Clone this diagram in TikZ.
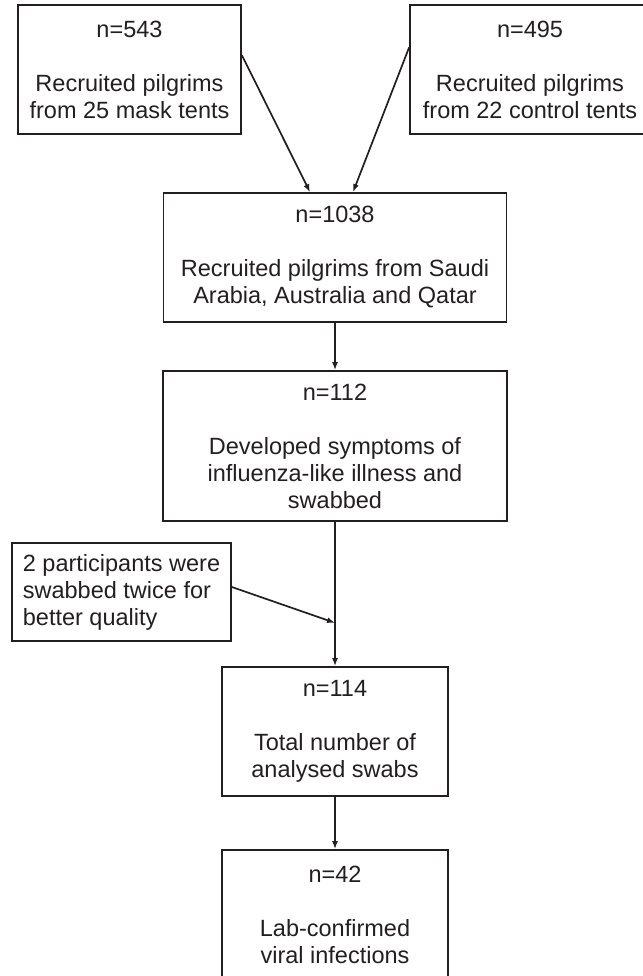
\documentclass[tikz,border=0pt]{standalone}
\usepackage{fontspec}
\setmainfont{Liberation Sans}
\usetikzlibrary{arrows.meta,calc}
\definecolor{ink}{HTML}{231F20}

\begin{document}
\begin{tikzpicture}[x=1pt, y=-1pt,
  box/.style={rectangle, draw=ink, line width=1.7pt, align=center, text=ink, inner sep=0pt, font=\fontsize{23.5}{27}\selectfont},
  flow/.style={draw=ink, line width=1.7pt, -{Latex[length=8pt, width=6pt]}}
]
  \useasboundingbox (0,0) rectangle (642,976);
  % recruitment
  \node[box, minimum width=223pt, minimum height=129pt] (mask) at (129.5,69.5) {n=543\\[27pt]Recruited pilgrims\\from 25 mask tents};
  \node[box, minimum width=240pt, minimum height=129pt] (ctrl) at (530,69.5) {n=495\\[27pt]Recruited pilgrims\\from 22 control tents};
  \node[box, minimum width=343pt, minimum height=129pt] (all) at (335,257.5) {n=1038\\[27pt]Recruited pilgrims from Saudi\\Arabia, Australia and Qatar};
  % illness and swabs
  \node[box, minimum width=344pt, minimum height=150pt] (ili) at (335,446) {n=112\\[27pt]Developed symptoms of\\influenza-like illness and\\swabbed};
  \node[box, align=left, minimum width=219pt, minimum height=98pt] (twice) at (121.5,592) {2 participants were\\swabbed twice for\\better quality};
  \node[box, minimum width=226pt, minimum height=129pt] (swabs) at (335,731.5) {n=114\\[27pt]Total number of\\analysed swabs};
  \node[box, minimum width=226pt, minimum height=130pt] (lab) at (335,915) {n=42\\[27pt]Lab-confirmed\\viral infections};
  \coordinate (join) at ($(ili.south)!0.7!(swabs.north)$);
  % arrows
  \draw[flow] ($(mask.north east)!0.39!(mask.south east)$) -- ($(all.north)+(-25,0)$);
  \draw[flow] ($(ctrl.north west)!0.33!(ctrl.south west)$) -- ($(all.north)+(18,0)$);
  \draw[flow] (all.south) -- (ili.north);
  \draw[flow] (ili.south) -- (swabs.north);
  \draw[flow] ($(twice.east)+(0,-5)$) -- (join);
  \draw[flow] (swabs.south) -- (lab.north);
\end{tikzpicture}
\end{document}
